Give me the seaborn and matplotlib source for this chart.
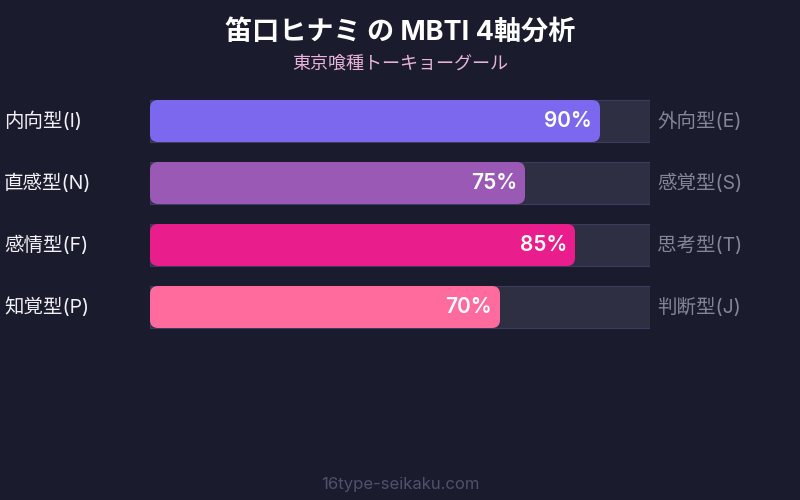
import numpy as np
import matplotlib
matplotlib.use("Agg")
import matplotlib.pyplot as plt
import pandas as pd
import seaborn as sns
from matplotlib.patches import FancyBboxPatch

# データ
left_labels = ["内向型(I)", "直感型(N)", "感情型(F)", "知覚型(P)"]
right_labels = ["外向型(E)", "感覚型(S)", "思考型(T)", "判断型(J)"]
scores = [90, 75, 85, 70]
bar_colors = ["#7b68ee", "#9b59b6", "#e91e8c", "#ff6b9d"]

title = "笛口ヒナミ の MBTI 4軸分析"
subtitle = "東京喰種トーキョーグール"
footer = "16type-seikaku.com"

BG = "#1b1b2e"
TRACK = "#2c2b48"

sns.set_theme(style="dark")
plt.rcParams["font.family"] = ["Inter", "Noto Sans CJK JP", "DejaVu Sans"]

df = pd.DataFrame({"axis": left_labels, "score": scores, "full": [100] * len(scores)})

fig = plt.figure(figsize=(8, 5), dpi=100, facecolor=BG)
ax = fig.add_axes([150 / 800, 1 - 338 / 500, 500 / 800, 248 / 500])
ax.set_facecolor(BG)

bar_h = 42 / 62

# トラック
sns.barplot(data=df, x="full", y="axis", orient="h", color=TRACK, width=bar_h,
            edgecolor="#3d3c5e", linewidth=0.8, ax=ax)
n_track = len(ax.patches)

# 塗りつぶし (角丸に置き換え)
sns.barplot(data=df, x="score", y="axis", orient="h", hue="axis", palette=bar_colors,
            width=bar_h, legend=False, ax=ax)

ax.set_xlim(0, 100)
ax.set_ylim(3.5, -0.5)

fill_patches = ax.patches[n_track:]
for p, c in zip(list(fill_patches), bar_colors):
    x0, y0 = p.get_x(), p.get_y()
    w, h = p.get_width(), p.get_height()
    p.remove()
    rb = FancyBboxPatch((x0, y0), w, h,
                        boxstyle="round,pad=0,rounding_size=1.6",
                        mutation_aspect=5 / 62,
                        facecolor=c, edgecolor="none", zorder=3)
    ax.add_patch(rb)

for i, (s, l, r) in enumerate(zip(scores, left_labels, right_labels)):
    ax.text(s - 1.6, i, f"{s}%", ha="right", va="center", color="white",
            fontsize=15, fontweight="semibold", zorder=4)
    fig.text(4 / 800, 1 - (121 + 62 * i) / 500, l, ha="left", va="center",
             color="#f0f0f5", fontsize=14)
    fig.text(657 / 800, 1 - (121 + 62 * i) / 500, r, ha="left", va="center",
             color="#85859a", fontsize=14)

ax.set_xticks([])
ax.set_yticks([])
ax.set_xlabel("")
ax.set_ylabel("")
for sp in ax.spines.values():
    sp.set_visible(False)

fig.text(0.5, 1 - 33 / 500, title, ha="center", va="center", color="white",
         fontsize=19.5, fontweight="bold")
fig.text(0.5, 1 - 64 / 500, subtitle, ha="center", va="center", color="#e8b4dc",
         fontsize=13)
fig.text(0.5, 1 - 484 / 500, footer, ha="center", va="center", color="#50506a",
         fontsize=12)

fig.savefig("out.png", dpi=100, facecolor=BG)
